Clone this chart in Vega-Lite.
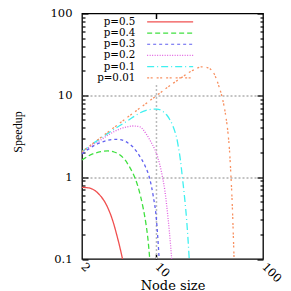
{
  "$schema": "https://vega.github.io/schema/vega-lite/v6.json",
  "width": 181,
  "height": 245.5,
  "autosize": {"type": "none"},
  "padding": {"left": 82, "top": 13.5, "right": 28, "bottom": 32},
  "background": "white",
  "config": {"view": {"stroke": "black", "strokeWidth": 1.3}, "font": "DejaVu Serif"},
  "data": {"values": [
    {"p":"p=0.5","x":2,"y":0.75},{"p":"p=0.5","x":2.2,"y":0.745},{"p":"p=0.5","x":2.44,"y":0.725},{"p":"p=0.5","x":2.65,"y":0.685},{"p":"p=0.5","x":2.83,"y":0.635},{"p":"p=0.5","x":3.05,"y":0.57},{"p":"p=0.5","x":3.27,"y":0.5},{"p":"p=0.5","x":3.5,"y":0.42},{"p":"p=0.5","x":3.77,"y":0.33},{"p":"p=0.5","x":4.0,"y":0.26},{"p":"p=0.5","x":4.2,"y":0.206},{"p":"p=0.5","x":4.5,"y":0.145},{"p":"p=0.5","x":4.8,"y":0.1},
    {"p":"p=0.4","x":2,"y":1.62},{"p":"p=0.4","x":2.3,"y":1.82},{"p":"p=0.4","x":2.63,"y":1.96},{"p":"p=0.4","x":3.0,"y":2.05},{"p":"p=0.4","x":3.5,"y":2.09},{"p":"p=0.4","x":4.0,"y":2.03},{"p":"p=0.4","x":4.55,"y":1.87},{"p":"p=0.4","x":5.04,"y":1.64},{"p":"p=0.4","x":5.5,"y":1.38},{"p":"p=0.4","x":6.0,"y":1.12},{"p":"p=0.4","x":6.3,"y":0.97},{"p":"p=0.4","x":6.7,"y":0.77},{"p":"p=0.4","x":7.1,"y":0.58},{"p":"p=0.4","x":7.5,"y":0.42},{"p":"p=0.4","x":8.0,"y":0.26},{"p":"p=0.4","x":8.3,"y":0.18},{"p":"p=0.4","x":8.65,"y":0.1},
    {"p":"p=0.3","x":2,"y":1.92},{"p":"p=0.3","x":2.3,"y":2.2},{"p":"p=0.3","x":2.65,"y":2.47},{"p":"p=0.3","x":3.0,"y":2.65},{"p":"p=0.3","x":3.5,"y":2.82},{"p":"p=0.3","x":4.1,"y":2.9},{"p":"p=0.3","x":4.7,"y":2.85},{"p":"p=0.3","x":5.4,"y":2.62},{"p":"p=0.3","x":6.0,"y":2.35},{"p":"p=0.3","x":6.5,"y":2.06},{"p":"p=0.3","x":7.0,"y":1.78},{"p":"p=0.3","x":7.8,"y":1.38},{"p":"p=0.3","x":8.6,"y":0.98},{"p":"p=0.3","x":9.3,"y":0.6},{"p":"p=0.3","x":10,"y":0.3},{"p":"p=0.3","x":10.3,"y":0.18},{"p":"p=0.3","x":10.6,"y":0.1},
    {"p":"p=0.2","x":2,"y":2.0},{"p":"p=0.2","x":2.3,"y":2.3},{"p":"p=0.2","x":2.65,"y":2.58},{"p":"p=0.2","x":3.0,"y":2.85},{"p":"p=0.2","x":3.53,"y":3.28},{"p":"p=0.2","x":4.0,"y":3.6},{"p":"p=0.2","x":4.55,"y":3.89},{"p":"p=0.2","x":5.2,"y":4.1},{"p":"p=0.2","x":6.06,"y":4.22},{"p":"p=0.2","x":7.0,"y":4.12},{"p":"p=0.2","x":7.5,"y":3.8},{"p":"p=0.2","x":8.1,"y":3.3},{"p":"p=0.2","x":8.8,"y":2.75},{"p":"p=0.2","x":9.7,"y":2.15},{"p":"p=0.2","x":10,"y":1.95},{"p":"p=0.2","x":10.7,"y":1.45},{"p":"p=0.2","x":11.4,"y":1.0},{"p":"p=0.2","x":12.0,"y":0.68},{"p":"p=0.2","x":12.5,"y":0.44},{"p":"p=0.2","x":13.2,"y":0.22},{"p":"p=0.2","x":13.9,"y":0.1},
    {"p":"p=0.1","x":2,"y":2.05},{"p":"p=0.1","x":2.65,"y":2.68},{"p":"p=0.1","x":3.53,"y":3.45},{"p":"p=0.1","x":4.5,"y":4.25},{"p":"p=0.1","x":5.5,"y":5.0},{"p":"p=0.1","x":6.2,"y":5.55},{"p":"p=0.1","x":7.0,"y":6.1},{"p":"p=0.1","x":8.0,"y":6.55},{"p":"p=0.1","x":9.0,"y":6.75},{"p":"p=0.1","x":10,"y":6.8},{"p":"p=0.1","x":11,"y":6.6},{"p":"p=0.1","x":11.6,"y":6.3},{"p":"p=0.1","x":12.5,"y":5.75},{"p":"p=0.1","x":13.4,"y":5.0},{"p":"p=0.1","x":14.2,"y":4.3},{"p":"p=0.1","x":14.9,"y":3.6},{"p":"p=0.1","x":15.5,"y":3.0},{"p":"p=0.1","x":16.0,"y":2.4},{"p":"p=0.1","x":16.8,"y":1.6},{"p":"p=0.1","x":17.5,"y":1.0},{"p":"p=0.1","x":18.4,"y":0.55},{"p":"p=0.1","x":19.2,"y":0.3},{"p":"p=0.1","x":19.8,"y":0.17},{"p":"p=0.1","x":20.3,"y":0.1},
    {"p":"p=0.01","x":2,"y":2.05},{"p":"p=0.01","x":3,"y":3.05},{"p":"p=0.01","x":4,"y":4.05},{"p":"p=0.01","x":5,"y":5.05},{"p":"p=0.01","x":7,"y":7.0},{"p":"p=0.01","x":10,"y":9.9},{"p":"p=0.01","x":14.4,"y":14.1},{"p":"p=0.01","x":17,"y":16.3},{"p":"p=0.01","x":20,"y":18.9},{"p":"p=0.01","x":23,"y":20.8},{"p":"p=0.01","x":26.6,"y":22.3},{"p":"p=0.01","x":30,"y":21.8},{"p":"p=0.01","x":32,"y":21.0},{"p":"p=0.01","x":34,"y":19.3},{"p":"p=0.01","x":36.7,"y":15.6},{"p":"p=0.01","x":39,"y":12.3},{"p":"p=0.01","x":41,"y":9.9},{"p":"p=0.01","x":43,"y":7.5},{"p":"p=0.01","x":45,"y":5.3},{"p":"p=0.01","x":47,"y":3.4},{"p":"p=0.01","x":48.5,"y":2.1},{"p":"p=0.01","x":50,"y":1.05},{"p":"p=0.01","x":51.5,"y":0.45},{"p":"p=0.01","x":52.5,"y":0.22},{"p":"p=0.01","x":53.5,"y":0.1}
  ]},
  "layer": [
    {
      "data": {"values": [{"gx": 10, "gy": 0.1, "gy2": 14}]},
      "mark": {"type": "rule", "color": "#bbbbbb", "strokeWidth": 1.5, "strokeDash": [2, 2]},
      "encoding": {
        "x": {"field": "gx", "type": "quantitative", "axis": null},
        "y": {"field": "gy", "type": "quantitative", "axis": null},
        "y2": {"field": "gy2"}
      }
    },
    {
      "mark": {"type": "line", "strokeWidth": 1.3, "interpolate": "monotone", "clip": true},
      "encoding": {
        "x": {"field": "x", "type": "quantitative",
          "scale": {"type": "log", "domain": [2, 100], "nice": false},
          "axis": {"orient": "bottom", "values": [2, 10, 100],
            "labelExpr": "datum.value == 2 ? '2' : datum.value == 10 ? '10' : '100'",
            "labelAngle": 45, "labelAlign": "left", "labelBaseline": "middle",
            "labelPadding": {"condition": {"test": "datum.value == 10", "value": 11}, "value": 6},
            "labelFont": "DejaVu Serif", "labelFontSize": 11.5, "labelColor": "black",
            "labelOverlap": false, "labelBound": false, "labelFlush": false,
            "tickSize": {"condition": {"test": "datum.value == 10", "value": -5}, "value": 0},
            "tickColor": "black", "tickWidth": 1.5, "domain": false, "grid": false,
            "title": "Node size", "titleFont": "DejaVu Serif", "titleFontSize": 13, "titleFontWeight": "normal",
            "titleColor": "black", "titleY": 30, "titleBaseline": "alphabetic"}},
        "y": {"field": "y", "type": "quantitative",
          "scale": {"type": "log", "domain": [0.1, 100], "nice": false},
          "axis": {"orient": "left",
            "values": [0.1,0.2,0.3,0.4,0.5,0.6,0.7,0.8,0.9,1,2,3,4,5,6,7,8,9,10,20,30,40,50,60,70,80,90,100],
            "labelExpr": "datum.value == 0.1 ? '0.1' : datum.value == 1 ? '1' : datum.value == 10 ? '10' : datum.value == 100 ? '100' : ''",
            "labelPadding": 16, "labelFont": "DejaVu Serif", "labelFontSize": 11.5, "labelColor": "black",
            "labelOverlap": false, "labelBound": false, "labelFlush": false,
            "tickSize": {"condition": {"test": "datum.value == 0.1 || datum.value == 1 || datum.value == 10 || datum.value == 100", "value": -6}, "value": -3},
            "tickColor": "black", "tickWidth": 1.2, "domain": false,
            "grid": true, "gridColor": "#888888", "gridDash": [2, 2], "gridWidth": 1,
            "gridOpacity": {"condition": {"test": "datum.value == 1 || datum.value == 10", "value": 1}, "value": 0},
            "title": "Speedup", "titleFont": "Liberation Serif", "titleFontSize": 12, "titleFontWeight": "normal",
            "titleColor": "black", "titlePadding": 26, "titleAlign": "center", "titleY": 118}},
        "color": {"field": "p", "type": "nominal",
          "scale": {"domain": ["p=0.5","p=0.4","p=0.3","p=0.2","p=0.1","p=0.01"],
                    "range": ["#f05050","#40e040","#6060f0","#e060e0","#40f0f0","#f89060"]},
          "legend": {"orient": "none", "legendX": 83, "legendY": 3.2, "title": null,
            "symbolType": "M-11.5,0H11.5", "symbolSize": 16, "symbolStrokeWidth": 1.2,
            "labelAlign": "right", "labelOffset": -40, "labelFont": "DejaVu Serif", "labelFontSize": 10.3,
            "labelColor": "black", "rowPadding": 0.2, "padding": 0, "labelLimit": 0}},
        "strokeDash": {"field": "p", "type": "nominal",
          "scale": {"domain": ["p=0.5","p=0.4","p=0.3","p=0.2","p=0.1","p=0.01"],
                    "range": [[1,0],[5,3],[3,3],[1,1.5],[7,3,1,3],[2,1.5,2,4]]},
          "legend": {"orient": "none", "legendX": 83, "legendY": 3.2, "title": null,
            "symbolType": "M-11.5,0H11.5", "symbolSize": 16, "symbolStrokeWidth": 1.2,
            "labelAlign": "right", "labelOffset": -40, "labelFont": "DejaVu Serif", "labelFontSize": 10.3,
            "labelColor": "black", "rowPadding": 0.2, "padding": 0, "labelLimit": 0}}
      }
    },
    {
      "mark": {"type": "point", "opacity": 0},
      "encoding": {
        "x": {"field": "x", "type": "quantitative",
          "axis": {"orient": "top", "values": [10], "labels": false, "tickSize": -5, "tickColor": "black", "tickWidth": 1.5, "domain": false, "grid": false, "title": null}},
        "y": {"field": "y", "type": "quantitative",
          "axis": {"orient": "right",
            "values": [0.1,0.2,0.3,0.4,0.5,0.6,0.7,0.8,0.9,1,2,3,4,5,6,7,8,9,10,20,30,40,50,60,70,80,90,100],
            "labels": false,
            "tickSize": {"condition": {"test": "datum.value == 0.1 || datum.value == 1 || datum.value == 10 || datum.value == 100", "value": -6}, "value": -3},
            "tickColor": "black", "tickWidth": 1.2, "domain": false, "grid": false, "title": null}}
      }
    }
  ],
  "resolve": {"axis": {"x": "independent", "y": "independent"}}
}
